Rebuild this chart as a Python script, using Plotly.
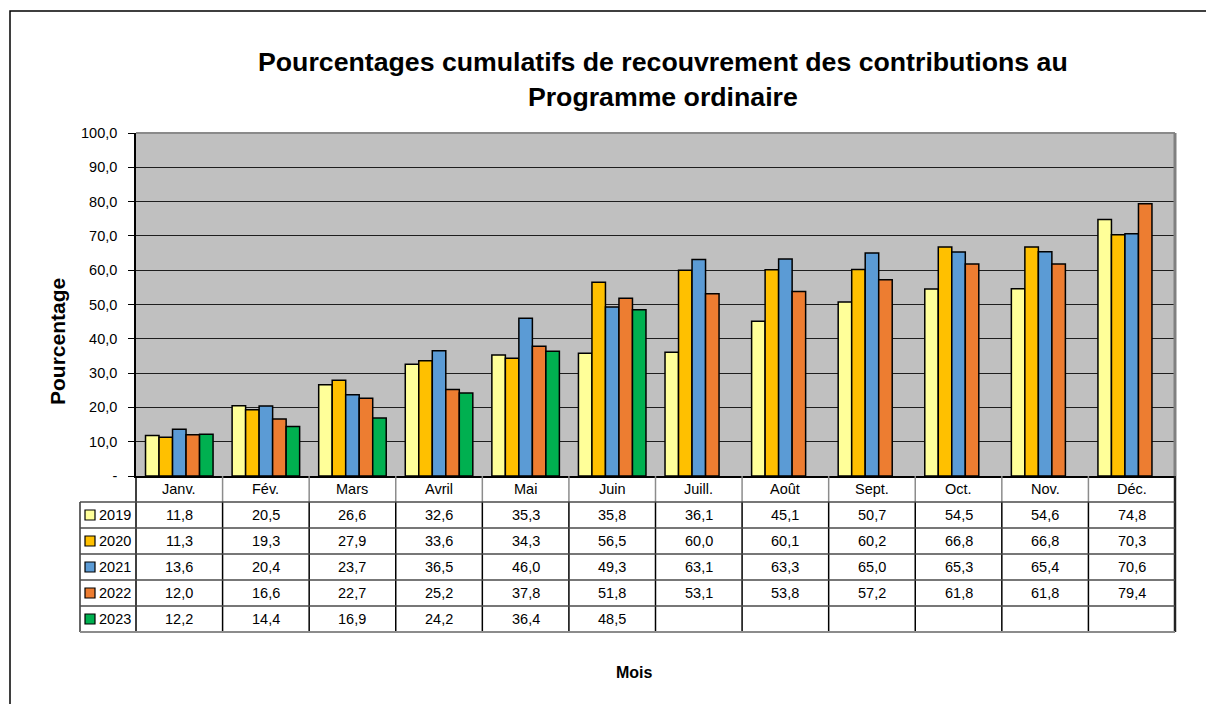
import plotly.graph_objects as go

# ---------------- data ----------------
months = ["Janv.", "Fév.", "Mars", "Avril", "Mai", "Juin", "Juill.", "Août",
          "Sept.", "Oct.", "Nov.", "Déc."]
years = ["2019", "2020", "2021", "2022", "2023"]
v2019 = [11.8, 20.5, 26.6, 32.6, 35.3, 35.8, 36.1, 45.1, 50.7, 54.5, 54.6, 74.8]
v2020 = [11.3, 19.3, 27.9, 33.6, 34.3, 56.5, 60.0, 60.1, 60.2, 66.8, 66.8, 70.3]
v2021 = [13.6, 20.4, 23.7, 36.5, 46.0, 49.3, 63.1, 63.3, 65.0, 65.3, 65.4, 70.6]
v2022 = [12.0, 16.6, 22.7, 25.2, 37.8, 51.8, 53.1, 53.8, 57.2, 61.8, 61.8, 79.4]
v2023 = [12.2, 14.4, 16.9, 24.2, 36.4, 48.5, None, None, None, None, None, None]
series = [v2019, v2020, v2021, v2022, v2023]
colors = ["#FFFF99", "#FFC000", "#5B9BD5", "#ED7D31", "#00B050"]
ytick_vals = [0, 10, 20, 30, 40, 50, 60, 70, 80, 90, 100]
ytick_text = ["-", "10,0", "20,0", "30,0", "40,0", "50,0", "60,0", "70,0",
              "80,0", "90,0", "100,0"]
title_text = "Pourcentages cumulatifs de recouvrement des contributions au<br>Programme ordinaire"
ytitle = "Pourcentage"
xtitle = "Mois"

# ---------------- layout geometry (pixels) ----------------
W, H = 1206, 704
PL, PR, PT, PB = 136, 1175, 133, 476
PW, PH = PR - PL, PB - PT
FONT = "Liberation Sans, Arial, sans-serif"
FS = 14.5


def px_x(px):
    return (px - PL) / PW


def px_y(py):
    return (PB - py) / PH


fig = go.Figure()
for name, vals, col in zip(years, series, colors):
    fig.add_trace(go.Bar(
        x=months, y=vals, name=name,
        marker=dict(color=col, line=dict(color="black", width=1.5)),
        hoverinfo="x+y+name",
    ))

shapes = []
annotations = []

# outer frame
shapes.append(dict(type="rect", xref="paper", yref="paper",
                   x0=px_x(10), x1=px_x(1230), y0=px_y(11), y1=px_y(740),
                   line=dict(color="black", width=1.5), fillcolor="rgba(0,0,0,0)",
                   layer="below"))
# plot border (top / right gray)
shapes.append(dict(type="line", xref="paper", yref="paper", x0=0, x1=1, y0=1, y1=1,
                   line=dict(color="#8a8a8a", width=2)))
shapes.append(dict(type="line", xref="paper", yref="paper", x0=1, x1=1, y0=0, y1=1,
                   line=dict(color="#808080", width=3)))

# ---------- data table ----------
n = len(months)
row_h = 26
header_top = PB
header_bot = PB + row_h
table_bot = header_bot + row_h * len(years)
leg_left = 80


def col_x(i):
    return i / n  # paper x of column boundary i (axis range -0.5..n-0.5)


for i in range(1, n):
    shapes.append(dict(type="line", xref="paper", yref="paper",
                       x0=col_x(i), x1=col_x(i), y0=px_y(header_top), y1=px_y(header_bot),
                       line=dict(color="#8c8c8c", width=1.5)))
for i in range(1, n):
    shapes.append(dict(type="line", xref="paper", yref="paper",
                       x0=col_x(i), x1=col_x(i), y0=px_y(header_bot), y1=px_y(table_bot),
                       line=dict(color="black", width=1.5)))
shapes.append(dict(type="line", xref="paper", yref="paper",
                   x0=0, x1=0, y0=px_y(header_top), y1=px_y(table_bot),
                   line=dict(color="black", width=1.5)))
shapes.append(dict(type="line", xref="paper", yref="paper",
                   x0=1, x1=1, y0=px_y(header_top), y1=px_y(table_bot),
                   line=dict(color="#222", width=2.5)))
shapes.append(dict(type="line", xref="paper", yref="paper",
                   x0=px_x(leg_left), x1=px_x(leg_left), y0=px_y(header_bot), y1=px_y(table_bot),
                   line=dict(color="black", width=1.2)))
for r in range(len(years) + 1):
    yy = header_bot + r * row_h
    colr = "#8c8c8c" if r == len(years) else "#4a4a4a"
    shapes.append(dict(type="line", xref="paper", yref="paper",
                       x0=px_x(leg_left), x1=1, y0=px_y(yy), y1=px_y(yy),
                       line=dict(color=colr, width=1.5 if r < len(years) else 2)))

for m in months:
    annotations.append(dict(x=m, xref="x", y=px_y(header_top + row_h / 2), yref="paper",
                            text=m, showarrow=False, xanchor="center", yanchor="middle",
                            font=dict(family=FONT, size=FS, color="black")))
for r, (name, vals, col) in enumerate(zip(years, series, colors)):
    yc = header_bot + r * row_h + row_h / 2
    shapes.append(dict(type="rect", xref="paper", yref="paper",
                       x0=px_x(85), x1=px_x(95), y0=px_y(yc - 5), y1=px_y(yc + 5),
                       fillcolor=col, line=dict(color="black", width=1.2)))
    annotations.append(dict(x=px_x(97), xref="paper", y=px_y(yc), yref="paper",
                            text=name, showarrow=False, xanchor="left", yanchor="middle",
                            font=dict(family=FONT, size=FS, color="black")))
    for m, v in zip(months, vals):
        if v is None:
            continue
        annotations.append(dict(x=m, xref="x", y=px_y(yc), yref="paper",
                                text=f"{v:.1f}".replace(".", ","), showarrow=False,
                                xanchor="center", yanchor="middle",
                                font=dict(family=FONT, size=FS, color="black")))

annotations.append(dict(x=px_x(663), xref="paper", y=px_y(80), yref="paper",
                        text="<b>" + title_text.replace("<br>", "</b><br><b>") + "</b>",
                        showarrow=False, xanchor="center", yanchor="middle",
                        font=dict(family=FONT, size=26.7, color="black")))
annotations.append(dict(x=px_x(57), xref="paper", y=px_y(342), yref="paper",
                        text="<b>" + ytitle + "</b>", textangle=-90, showarrow=False,
                        xanchor="center", yanchor="middle",
                        font=dict(family=FONT, size=21, color="black")))
annotations.append(dict(x=px_x(634), xref="paper", y=px_y(672), yref="paper",
                        text="<b>" + xtitle + "</b>", showarrow=False,
                        xanchor="center", yanchor="middle",
                        font=dict(family=FONT, size=16, color="black")))

fig.update_layout(
    width=W, height=H,
    margin=dict(l=PL, r=W - PR, t=PT, b=H - PB, pad=0),
    paper_bgcolor="white", plot_bgcolor="#C0C0C0",
    barmode="group", bargap=0.22, bargroupgap=0,
    showlegend=False,
    font=dict(family=FONT, size=FS, color="black"),
    shapes=shapes, annotations=annotations,
    xaxis=dict(range=[-0.5, n - 0.5], showticklabels=False, ticks="",
               showgrid=False, zeroline=False, showline=True, linecolor="black",
               linewidth=1.5, fixedrange=True),
    yaxis=dict(range=[0, 100], tickvals=ytick_vals, ticktext=ytick_text,
               ticks="outside", ticklen=6, tickcolor="black", tickwidth=1,
               showline=True, linecolor="black", linewidth=1.5,
               showgrid=True, gridcolor="#1e1e1e", gridwidth=1,
               zeroline=False, fixedrange=True, ticklabelstandoff=8,
               tickfont=dict(family=FONT, size=FS, color="black")),
)

fig.write_html("out.html", config={"displayModeBar": False},
               post_script="document.body.style.margin='0';")
